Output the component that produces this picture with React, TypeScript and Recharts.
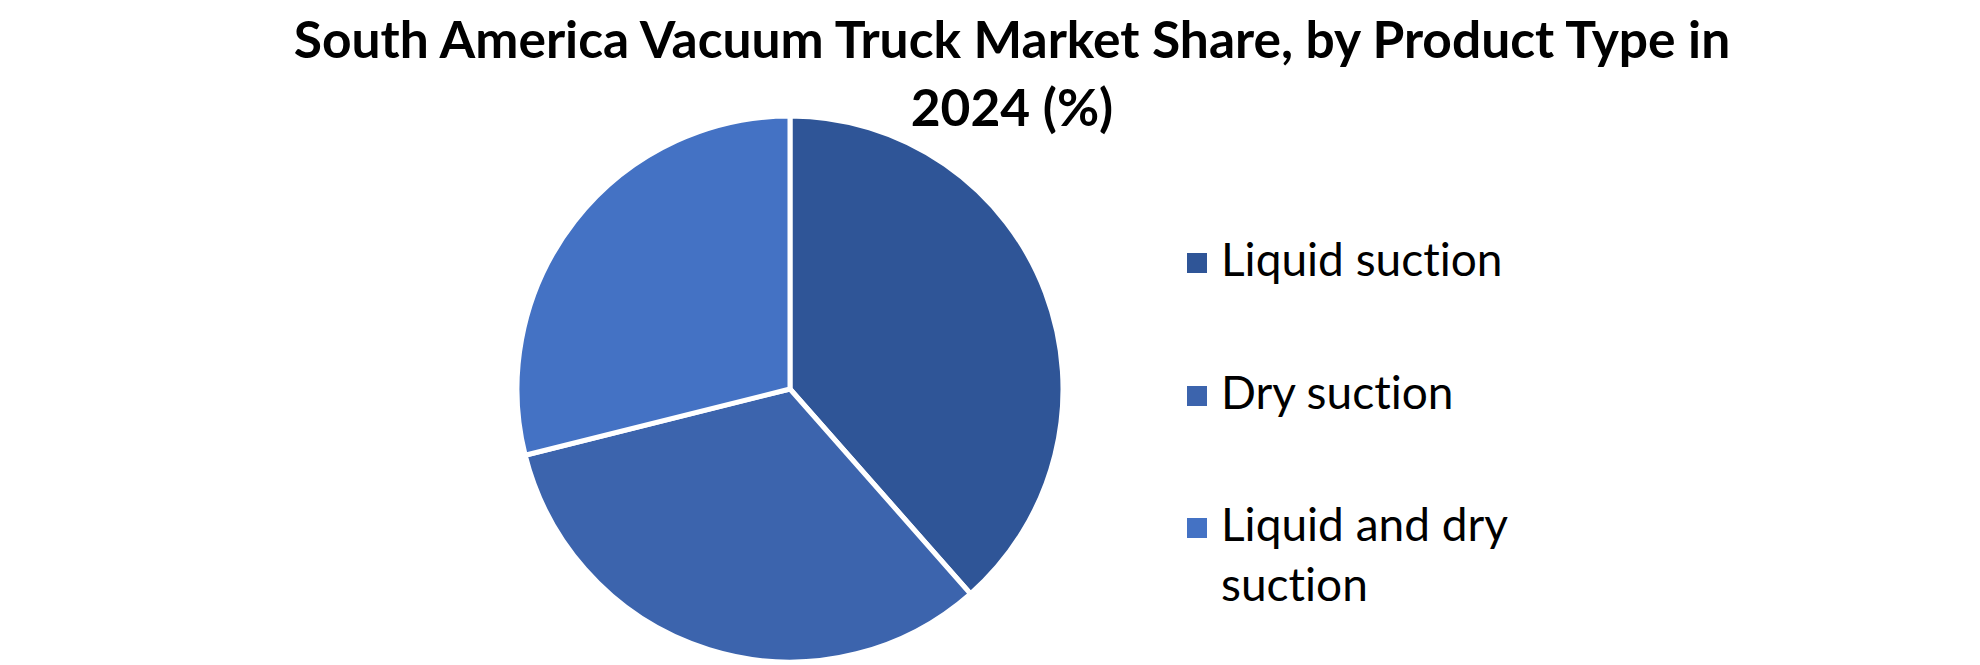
import React from "react";
import { PieChart, Pie, Cell, Legend } from "recharts";

// Product type shares (%)
const productTypes = ["Liquid suction", "Dry suction", "Liquid and dry suction"];
const shares = [38.5, 32.6, 28.9];
const sliceColors = ["#2F5597", "#3C64AD", "#4472C4"];

const title = "South America Vacuum Truck Market Share, by Product Type in 2024 (%)";

const data = productTypes.map((name, i) => ({ name, value: shares[i] }));

const FONT = "Lato, Calibri, 'Open Sans', sans-serif";

const LegendBox = () => (
  <div style={{ position: "relative", width: 420, height: 420 }}>
    {productTypes.map((name, i) => (
      <div
        key={name}
        style={{ position: "absolute", left: 0, top: [0, 133, 264.7][i], width: 420 }}
      >
        <div
          style={{
            position: "absolute",
            left: 0,
            top: 23.8,
            width: 20,
            height: 20,
            background: sliceColors[i],
          }}
        />
        <div
          style={{
            position: "absolute",
            left: 34,
            top: 0,
            width: 330,
            fontFamily: FONT,
            fontSize: 46,
            lineHeight: "60px",
            fontVariantLigatures: "none",
            color: "#000",
          }}
        >
          {name}
        </div>
      </div>
    ))}
  </div>
);

export default function App() {
  return (
    <div
      style={{
        position: "fixed",
        left: 0,
        top: 0,
        width: 1980,
        height: 665,
        background: "#fff",
        overflow: "hidden",
      }}
    >
      <div
        style={{
          position: "absolute",
          left: 262,
          top: 4.4,
          width: 1500,
          textAlign: "center",
          fontFamily: FONT,
          fontWeight: 700,
          fontSize: 51.5,
          lineHeight: "68px",
          fontVariantLigatures: "none",
          color: "#000",
        }}
      >
        {title}
      </div>
      <PieChart width={1980} height={665} margin={{ top: 0, right: 0, bottom: 0, left: 0 }}>
        <Pie
          data={data}
          dataKey="value"
          nameKey="name"
          cx={790}
          cy={389}
          outerRadius={273}
          startAngle={90}
          endAngle={-270}
          stroke="#ffffff"
          strokeWidth={5}
          isAnimationActive={false}
        >
          {data.map((d, i) => (
            <Cell key={d.name} fill={sliceColors[i]} />
          ))}
        </Pie>
        <Legend
          content={() => <LegendBox />}
          wrapperStyle={{ position: "absolute", left: 1187, top: 229.2, width: 420, height: 420 }}
        />
      </PieChart>
    </div>
  );
}
